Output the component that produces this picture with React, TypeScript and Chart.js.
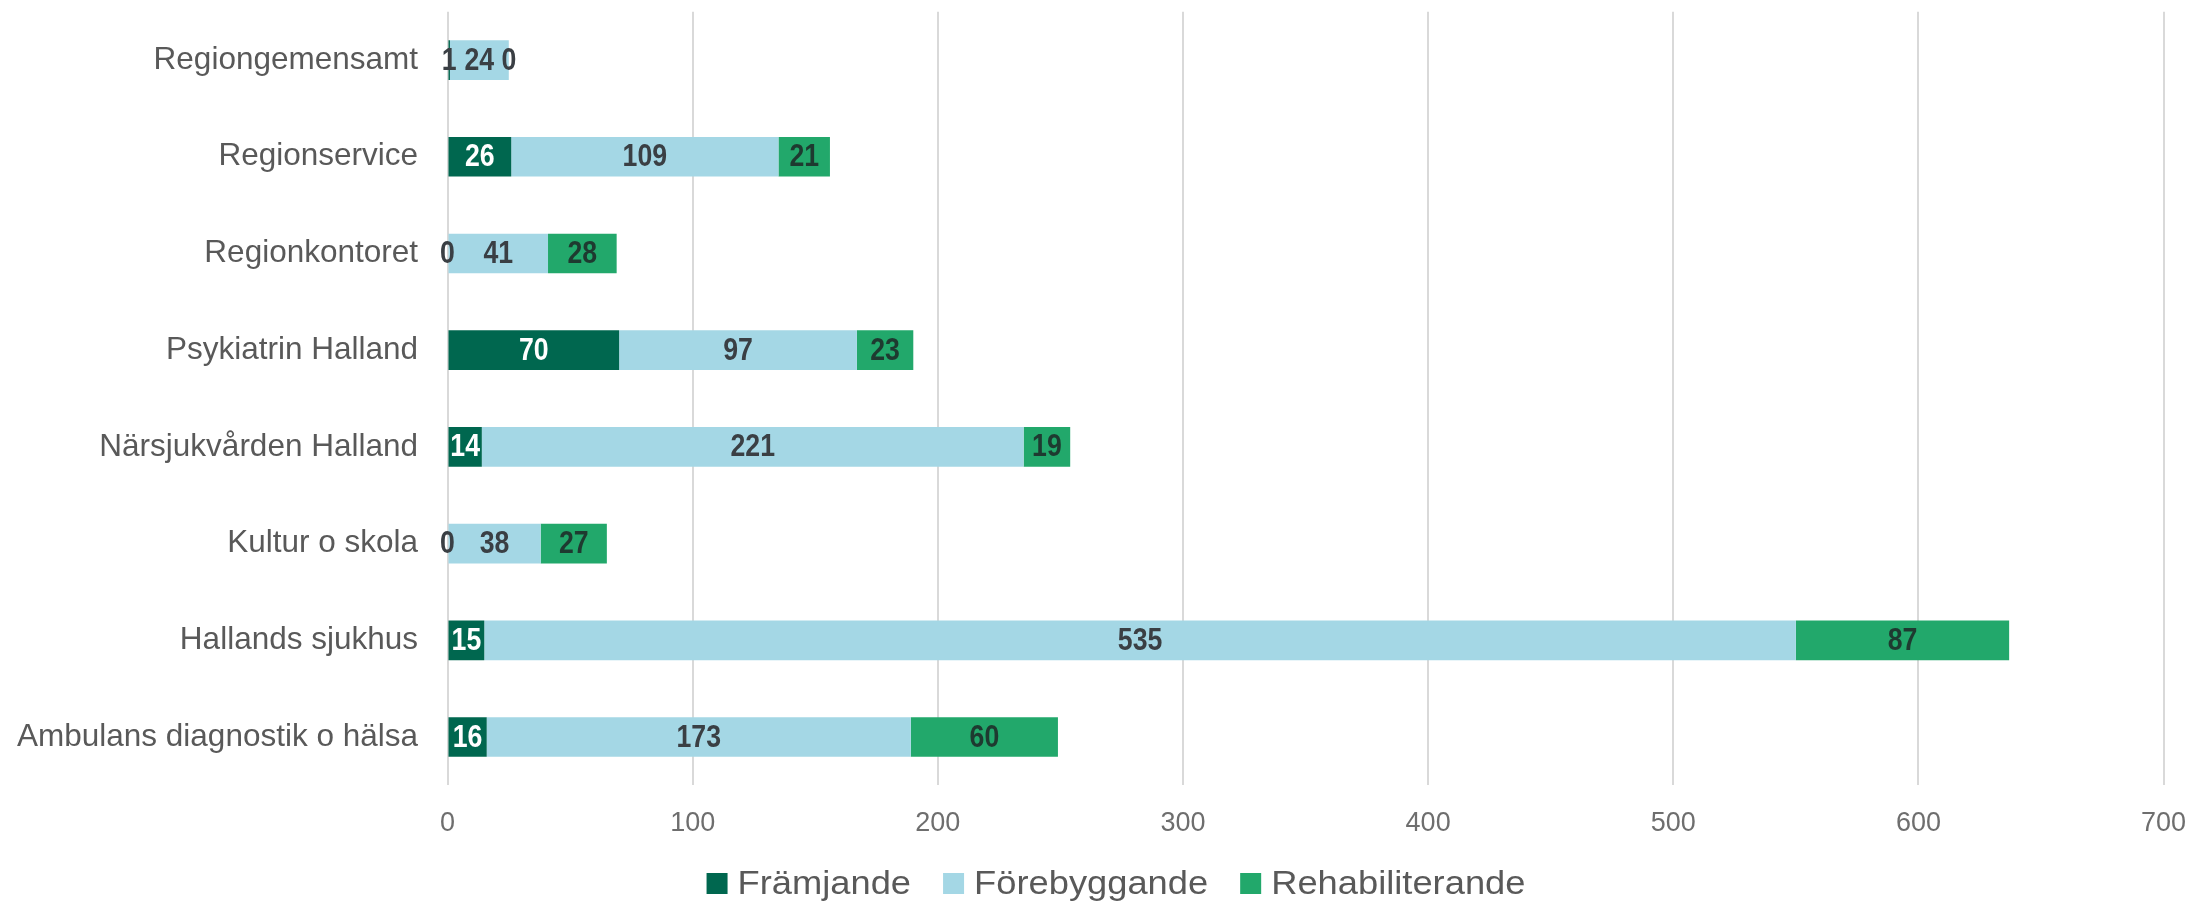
import React, { useEffect, useRef } from "react";
import { Chart, registerables } from "chart.js";

Chart.register(...registerables);

const categories = [
  "Regiongemensamt",
  "Regionservice",
  "Regionkontoret",
  "Psykiatrin Halland",
  "Närsjukvården Halland",
  "Kultur o skola",
  "Hallands sjukhus",
  "Ambulans diagnostik o hälsa",
];
const framjande = [1, 26, 0, 70, 14, 0, 15, 16];
const forebyggande = [24, 109, 41, 97, 221, 38, 535, 173];
const rehabiliterande = [0, 21, 28, 23, 19, 27, 87, 60];
const tickValues = [0, 100, 200, 300, 400, 500, 600, 700];

const seriesNames = ["Främjande", "Förebyggande", "Rehabiliterande"];
const seriesColors = ["#00674F", "#A4D7E5", "#22A86B"];
const labelColors = ["#FFFFFF", "#3A3F44", "#1E3A30"];
const outsideLabelColor = "#3A3F44";

const FONT = "'Liberation Sans', Arial, sans-serif";

const valueLabels = {
  id: "valueLabels",
  afterDatasetsDraw(chart: any) {
    const ctx = chart.ctx;
    const sx = 0.86;
    chart.data.datasets.forEach((ds: any, di: number) => {
      const meta = chart.getDatasetMeta(di);
      meta.data.forEach((el: any, i: number) => {
        const v = ds.data[i];
        const text = String(v);
        const x = (el.x + el.base) / 2;
        ctx.save();
        ctx.font = `bold 31px ${FONT}`;
        const tw = ctx.measureText(text).width * sx;
        const segW = Math.abs(el.x - el.base);
        ctx.translate(x, el.y + 1);
        ctx.scale(sx, 1);
        ctx.textAlign = "center";
        ctx.textBaseline = "middle";
        ctx.fillStyle = segW < tw ? outsideLabelColor : labelColors[di];
        ctx.fillText(text, 0, 0);
        ctx.restore();
      });
    });
  },
};

const customLegend = {
  id: "customLegend",
  afterDraw(chart: any) {
    const ctx = chart.ctx;
    ctx.save();
    const sx = 1.1;
    ctx.font = `33px ${FONT}`;
    ctx.textBaseline = "middle";
    ctx.textAlign = "left";
    const box = 21;
    const gapText = 10;
    const gapItem = 32;
    const widths = chart.data.datasets.map((ds: any) => ctx.measureText(ds.label).width * sx);
    const total =
      widths.reduce((a: number, b: number) => a + b, 0) +
      widths.length * (box + gapText) +
      (widths.length - 1) * gapItem;
    let x = 1116 - total / 2;
    const y = 883.5;
    chart.data.datasets.forEach((ds: any, i: number) => {
      ctx.fillStyle = ds.backgroundColor;
      ctx.fillRect(x, y - box / 2, box, box);
      x += box + gapText;
      ctx.save();
      ctx.translate(x, y + 1);
      ctx.scale(sx, 1);
      ctx.fillStyle = "#595959";
      ctx.fillText(ds.label, 0, 0);
      ctx.restore();
      x += widths[i] + gapItem;
    });
    ctx.restore();
  },
};

export default function App() {
  const ref = useRef<HTMLCanvasElement>(null);
  useEffect(() => {
    document.body.style.margin = "0";
    const canvas = ref.current;
    if (!canvas) return;
    const seriesData = [framjande, forebyggande, rehabiliterande];
    const chart = new Chart(canvas, {
      type: "bar",
      data: {
        labels: categories,
        datasets: seriesNames.map((name, i) => ({
          label: name,
          data: seriesData[i],
          backgroundColor: seriesColors[i],
          borderWidth: 0,
          barPercentage: 0.41,
          categoryPercentage: 1,
        })),
      },
      options: {
        indexAxis: "y",
        animation: false,
        responsive: false,
        devicePixelRatio: 1,
        layout: { padding: { top: 11.7, right: 29.4, bottom: 67.2, left: 17 } },
        plugins: {
          legend: { display: false },
          tooltip: { enabled: false },
        },
        scales: {
          x: {
            stacked: true,
            min: 0,
            max: 700,
            afterBuildTicks: (axis: any) => {
              axis.ticks = tickValues.map((v) => ({ value: v }));
            },
            afterFit: (scale: any) => {
              scale.height = 52.4;
              scale.paddingLeft = 0;
              scale.paddingRight = 0;
              scale.paddingTop = 0;
              scale.paddingBottom = 0;
            },
            grid: { color: "#D9D9D9", lineWidth: 2, drawTicks: false },
            border: { display: false },
            ticks: {
              color: "#6E6E6E",
              padding: 22,
              font: { family: FONT, size: 27 },
            },
          },
          y: {
            stacked: true,
            afterFit: (scale: any) => {
              scale.width = 430.5;
              scale.paddingTop = 0;
              scale.paddingBottom = 0;
              scale.paddingLeft = 0;
              scale.paddingRight = 0;
            },
            grid: { display: false, drawTicks: false },
            border: { display: false },
            ticks: {
              color: "#595959",
              padding: 29.5,
              font: { family: FONT, size: 31.5 },
            },
          },
        },
      },
      plugins: [valueLabels, customLegend],
    } as any);
    return () => chart.destroy();
  }, []);
  return (
    <div style={{ width: 2193, height: 905, background: "#fff" }}>
      <canvas ref={ref} width={2193} height={905} style={{ display: "block" }} />
    </div>
  );
}
